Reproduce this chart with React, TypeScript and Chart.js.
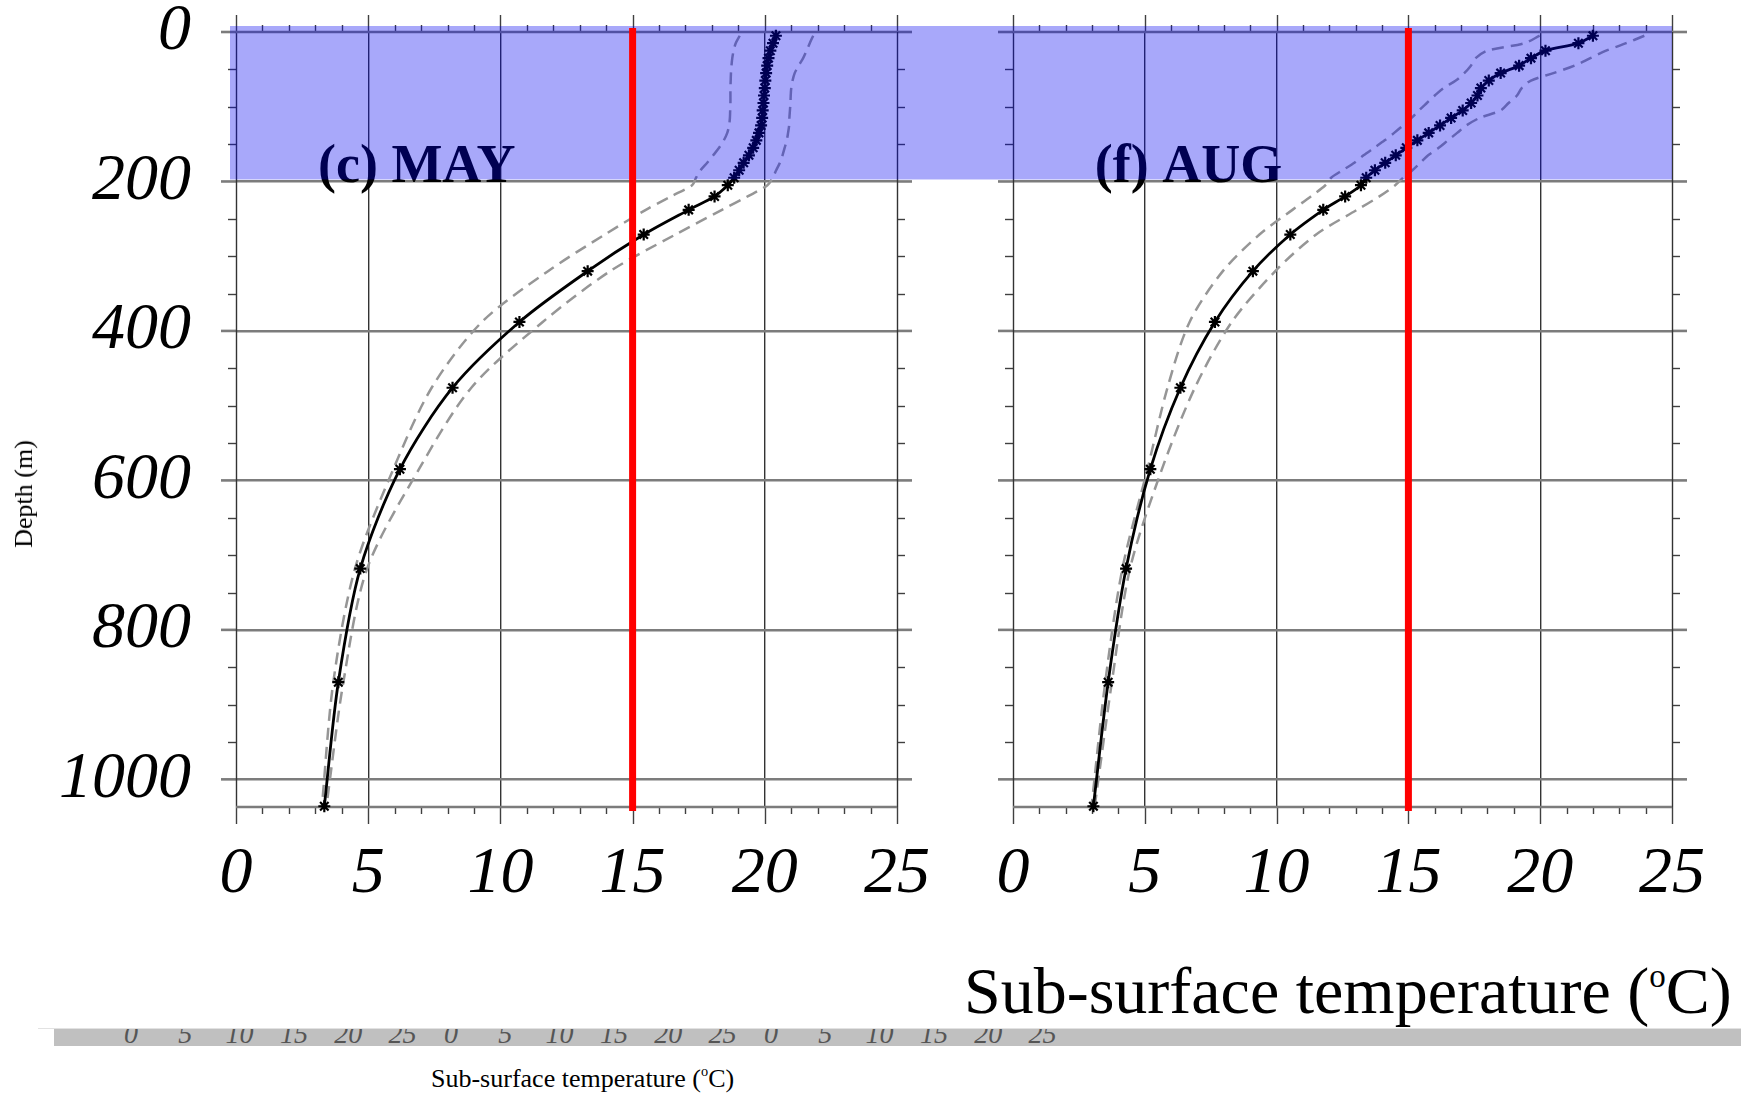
import React, { useEffect, useRef } from 'react';
import { Chart, registerables } from 'chart.js';

Chart.register(...registerables);

// ---------------- data ----------------
const DEPTHS_M = [5, 15, 25, 35, 45, 55, 65, 75, 85, 95, 105, 115, 125, 135, 145, 155, 165, 175, 185, 195, 205, 220, 238, 271, 320, 388, 476, 585, 718, 870, 1036];

const MAY_MEAN = [20.42, 20.31, 20.21, 20.14, 20.09, 20.05, 20.02, 20.0, 19.97, 19.95, 19.92, 19.9, 19.86, 19.78, 19.68, 19.56, 19.4, 19.2, 19.03, 18.84, 18.6, 18.1, 17.12, 15.42, 13.3, 10.72, 8.19, 6.2, 4.7, 3.87, 3.34];
const MAY_LOW = [19.05, 18.9, 18.82, 18.77, 18.74, 18.72, 18.71, 18.7, 18.7, 18.7, 18.69, 18.68, 18.65, 18.58, 18.45, 18.27, 18.05, 17.82, 17.57, 17.4, 17.25, 16.45, 15.5, 13.95, 11.8, 9.3, 7.4, 5.95, 4.5, 3.68, 3.25];
const MAY_HIGH = [21.83, 21.7, 21.58, 21.45, 21.28, 21.13, 21.05, 21.0, 20.98, 20.97, 20.95, 20.93, 20.92, 20.88, 20.83, 20.75, 20.67, 20.57, 20.43, 20.3, 20.1, 19.35, 18.38, 16.62, 14.15, 11.6, 8.9, 6.92, 4.96, 4.06, 3.42];

const AUG_MEAN = [22.0, 21.45, 20.2, 19.65, 19.2, 18.5, 18.05, 17.75, 17.62, 17.38, 17.06, 16.62, 16.2, 15.77, 15.34, 14.92, 14.52, 14.12, 13.73, 13.4, 13.2, 12.6, 11.77, 10.52, 9.1, 7.66, 6.35, 5.21, 4.29, 3.61, 3.05];
const AUG_LOW = [19.98, 19.4, 18.0, 17.55, 17.37, 17.12, 16.8, 16.33, 16.0, 15.7, 15.4, 15.12, 14.8, 14.46, 14.1, 13.7, 13.3, 12.95, 12.5, 12.07, 11.85, 11.3, 10.6, 9.35, 7.96, 6.7, 5.86, 5.1, 4.15, 3.5, 2.98];
const AUG_HIGH = [23.95, 23.26, 22.5, 21.9, 21.3, 20.5, 19.65, 19.3, 19.12, 18.8, 18.5, 17.7, 17.2, 16.85, 16.5, 16.15, 15.75, 15.45, 15.15, 14.8, 14.5, 13.9, 13.05, 11.5, 9.95, 8.3, 6.9, 5.65, 4.44, 3.75, 3.1];

const PANEL_LABELS = ['(c) MAY', '(f) AUG'];

const X_TICKS = [0, 5, 10, 15, 20, 25];
const Y_TICKS = [0, 200, 400, 600, 800, 1000];

const TEMP_MIN = 0;
const TEMP_MAX = 25;
const TEMP_MAJOR = 5;
const TEMP_MINOR = 1;
const DEPTH_MIN = 0;
const DEPTH_MAX = 1037;
const DEPTH_MAJOR = 200;
const DEPTH_MINOR = 50;
const THRESHOLD_TEMP = 15;
const SHADED_DEPTH = 200;
const LABEL_TEMP = 3.1;

const Y_TITLE = 'Depth (m)';
const X_TITLE_MAIN = 'Sub-surface temperature (';
const X_TITLE_SUP = 'o';
const X_TITLE_END = 'C)';
const GHOST_TICK_LABELS = ['0', '5', '10', '15', '20', '25', '0', '5', '10', '15', '20', '25', '0', '5', '10', '15', '20', '25'];

// ---------------- styles ----------------
const SERIF = "'Liberation Serif', 'Times New Roman', Times, serif";
const GRID_V = '#333333';
const GRID_H = '#7c7c7c';
const TICK_C = '#404040';
const OVERLAY = 'rgba(0,0,240,0.34)';
const TRANSPARENT = 'rgba(0,0,0,0)';

type Side = 'left' | 'right';

function makeDecor(label: string, side: Side) {
  const isLeft = side === 'left';
  const line = (ctx: CanvasRenderingContext2D, x1: number, y1: number, x2: number, y2: number) => {
    ctx.beginPath();
    ctx.moveTo(x1, y1);
    ctx.lineTo(x2, y2);
    ctx.stroke();
  };
  return {
    id: 'panelDecor',
    beforeDatasetsDraw(chart: any) {
      const { ctx, chartArea: a, scales } = chart;
      const xs = scales.x;
      const ys = scales.y;
      ctx.save();
      // x ticks top & bottom
      ctx.strokeStyle = TICK_C;
      ctx.lineWidth = 1.4;
      for (let v = TEMP_MIN; v <= TEMP_MAX + 1e-9; v += TEMP_MINOR) {
        const px = Math.round(xs.getPixelForValue(v)) + 0.5;
        const len = v % TEMP_MAJOR === 0 ? 17 : 7;
        line(ctx, px, a.top - len, px, a.top);
        line(ctx, px, a.bottom, px, a.bottom + len);
      }
      // y ticks left & right
      for (let v = DEPTH_MIN; v <= DEPTH_MAX; v += DEPTH_MINOR) {
        const py = ys.getPixelForValue(v);
        if (v % DEPTH_MAJOR === 0) {
          ctx.strokeStyle = GRID_H;
          ctx.lineWidth = 2.6;
          line(ctx, a.left - 15, py, a.left, py);
          line(ctx, a.right, py, a.right + 15, py);
        } else {
          ctx.strokeStyle = TICK_C;
          ctx.lineWidth = 1.4;
          const p = Math.round(py) + 0.5;
          line(ctx, a.left - 8, p, a.left, p);
          line(ctx, a.right, p, a.right + 8, p);
        }
      }
      // frame
      ctx.strokeStyle = GRID_V;
      ctx.lineWidth = 1.4;
      line(ctx, Math.round(a.left) + 0.5, a.top, Math.round(a.left) + 0.5, a.bottom);
      line(ctx, Math.round(a.right) + 0.5, a.top, Math.round(a.right) + 0.5, a.bottom);
      ctx.strokeStyle = GRID_H;
      ctx.lineWidth = 2.6;
      line(ctx, a.left, ys.getPixelForValue(DEPTH_MIN), a.right, ys.getPixelForValue(DEPTH_MIN));
      line(ctx, a.left, a.bottom, a.right, a.bottom);
      ctx.restore();
    },
    afterDraw(chart: any) {
      const { ctx, chartArea: a, scales, width } = chart;
      const xs = scales.x;
      const ys = scales.y;
      ctx.save();
      // panel label
      ctx.font = `bold 54px ${SERIF}`;
      ctx.fillStyle = '#000';
      ctx.textAlign = 'left';
      ctx.textBaseline = 'alphabetic';
      ctx.fillText(label, xs.getPixelForValue(LABEL_TEMP), ys.getPixelForValue(SHADED_DEPTH) + 1);
      // shaded upper layer
      const top = ys.getPixelForValue(DEPTH_MIN) - 6;
      const bot = ys.getPixelForValue(SHADED_DEPTH) - 2;
      const x0 = isLeft ? a.left - 6 : 0;
      const x1 = isLeft ? width : a.right;
      ctx.fillStyle = OVERLAY;
      ctx.fillRect(x0, top, x1 - x0, bot - top);
      // threshold line
      const rx = xs.getPixelForValue(THRESHOLD_TEMP);
      ctx.fillStyle = '#ff0000';
      ctx.fillRect(rx - 3.5, top + 2, 7, a.bottom + 4 - (top + 2));
      ctx.restore();
    },
  };
}

type PanelProps = {
  label: string;
  mean: number[];
  low: number[];
  high: number[];
  side: Side;
  height: number;
};

function Panel({ label, mean, low, high, side, height }: PanelProps) {
  const ref = useRef<HTMLCanvasElement>(null);
  useEffect(() => {
    const isLeft = side === 'left';
    const yAxisW = isLeft ? 236 : 58;
    const padRight = isLeft ? 58 : 69;
    const xAxisH = height - 807;
    const toPts = (arr: number[]) => DEPTHS_M.map((d, i) => ({ x: arr[i], y: d }));
    const dashed = (arr: number[]) => ({
      data: toPts(arr),
      borderColor: 'rgb(150,150,150)',
      borderWidth: 2.5,
      borderDash: [12, 7],
      pointRadius: 0,
      tension: 0.3,
      fill: false,
      clip: 8,
    });
    const tickFont = { family: SERIF, style: 'italic' as const, size: 66, lineHeight: 0.9 };
    const chart = new Chart(ref.current as HTMLCanvasElement, {
      type: 'line',
      data: {
        datasets: [
          {
            data: toPts(mean),
            borderColor: '#000',
            borderWidth: 2.8,
            pointStyle: 'star',
            pointRadius: 6,
            pointBorderWidth: 2.2,
            pointBorderColor: '#000',
            pointBackgroundColor: '#000',
            tension: 0.3,
            fill: false,
            clip: 10,
          } as any,
          dashed(low) as any,
          dashed(high) as any,
        ],
      },
      options: {
        animation: false,
        responsive: true,
        maintainAspectRatio: false,
        devicePixelRatio: 1,
        events: [],
        layout: { padding: { top: 32, right: padRight, bottom: 0, left: 0 } },
        plugins: { legend: { display: false }, tooltip: { enabled: false } },
        scales: {
          x: {
            type: 'linear',
            position: 'bottom',
            min: TEMP_MIN,
            max: TEMP_MAX,
            afterBuildTicks: (s: any) => {
              s.ticks = X_TICKS.map((v) => ({ value: v }));
            },
            afterFit: (s: any) => {
              s.height = xAxisH;
            },
            border: { display: false },
            grid: {
              drawTicks: true,
              tickLength: 38,
              tickColor: TRANSPARENT,
              lineWidth: 1.4,
              color: (c: any) =>
                c.tick && c.tick.value > TEMP_MIN && c.tick.value < TEMP_MAX ? GRID_V : TRANSPARENT,
            },
            ticks: {
              autoSkip: false,
              maxRotation: 0,
              padding: 0,
              color: '#000',
              font: tickFont,
              callback: (v: any) => String(v),
            },
          },
          y: {
            type: 'linear',
            position: 'left',
            reverse: true,
            min: DEPTH_MIN,
            max: DEPTH_MAX,
            afterBuildTicks: (s: any) => {
              s.ticks = Y_TICKS.map((v) => ({ value: v }));
            },
            afterFit: (s: any) => {
              s.width = yAxisW;
            },
            border: { display: false },
            grid: {
              drawTicks: true,
              tickLength: 45,
              tickColor: TRANSPARENT,
              lineWidth: 2.6,
              color: (c: any) =>
                c.tick && c.tick.value > DEPTH_MIN && c.tick.value < DEPTH_MAX ? GRID_H : TRANSPARENT,
            },
            ticks: {
              display: isLeft,
              autoSkip: false,
              padding: 0,
              color: '#000',
              font: tickFont,
              callback: (v: any) => String(v),
            },
          },
        },
      } as any,
      plugins: [makeDecor(label, side)],
    });
    return () => chart.destroy();
  }, [label, mean, low, high, side, height]);
  return <canvas ref={ref} />;
}

export default function App() {
  const H = 940;
  return (
    <div
      style={{
        position: 'fixed',
        left: 0,
        top: 0,
        width: 1741,
        height: 1094,
        background: '#fff',
        overflow: 'hidden',
        fontFamily: SERIF,
        color: '#000',
      }}
    >
      <div style={{ position: 'absolute', left: 0, top: 0, width: 955, height: H }}>
        <Panel label={PANEL_LABELS[0]} mean={MAY_MEAN} low={MAY_LOW} high={MAY_HIGH} side="left" height={H} />
      </div>
      <div style={{ position: 'absolute', left: 955, top: 0, width: 786, height: H }}>
        <Panel label={PANEL_LABELS[1]} mean={AUG_MEAN} low={AUG_LOW} high={AUG_HIGH} side="right" height={H} />
      </div>

      <div
        style={{
          position: 'absolute',
          left: 24,
          top: 494,
          transform: 'translate(-50%, -50%) rotate(-90deg)',
          fontSize: 26,
          lineHeight: 1,
          whiteSpace: 'nowrap',
        }}
      >
        {Y_TITLE}
      </div>

      <div style={{ position: 'absolute', left: 964, top: 958, fontSize: 66, lineHeight: 1, whiteSpace: 'nowrap' }}>
        {X_TITLE_MAIN}
        <span style={{ fontSize: '0.5em', position: 'relative', top: '-0.8em', lineHeight: 0 }}>{X_TITLE_SUP}</span>
        {X_TITLE_END}
      </div>

      <div style={{ position: 'absolute', left: 38, top: 1028, width: 1703, height: 1, background: '#e2e2e2' }} />
      <div
        style={{
          position: 'absolute',
          left: 54,
          top: 1029,
          width: 1687,
          height: 17,
          background: '#c0c0c0',
          overflow: 'hidden',
        }}
      >
        {GHOST_TICK_LABELS.map((t, i) => (
          <span
            key={i}
            style={{
              position: 'absolute',
              left: 131 - 54 + Math.floor(i / 6) * 320 + (i % 6) * 54.3,
              top: -9,
              transform: 'translateX(-50%)',
              fontStyle: 'italic',
              fontSize: 28,
              lineHeight: 1,
              color: '#555',
              whiteSpace: 'nowrap',
            }}
          >
            {t}
          </span>
        ))}
      </div>

      <div style={{ position: 'absolute', left: 431, top: 1066, fontSize: 26, lineHeight: 1, whiteSpace: 'nowrap' }}>
        {X_TITLE_MAIN}
        <span style={{ fontSize: '0.55em', position: 'relative', top: '-0.75em', lineHeight: 0 }}>{X_TITLE_SUP}</span>
        {X_TITLE_END}
      </div>
    </div>
  );
}
